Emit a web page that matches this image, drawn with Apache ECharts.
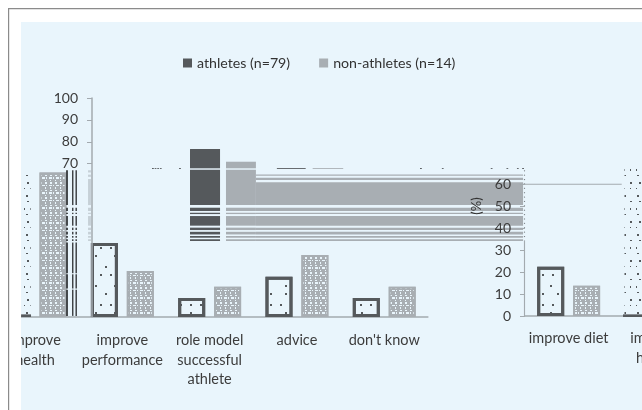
<!DOCTYPE html>
<html><head><meta charset="utf-8">
<style>html,body{margin:0;padding:0;background:#fff}#c{width:642px;height:410px}</style>
<script src="https://cdn.jsdelivr.net/npm/echarts@6/dist/echarts.min.js"></script>
</head><body><div id="c"></div>
<script>
const leftCategories = ['improve\nhealth','improve\nperformance','role model\nsuccessful\nathlete','advice',"don't know"];
const rightCategories = ['improve diet','improve\nhealth'];
const athletesLeft = [66, 33.8, 8.7, 18.4, 8.7];
const nonAthletesLeft = [66, 21, 13.8, 28.3, 13.8];
const athletesRight = [22.4, 67];
const nonAthletesRight = [13.8, 60];
const leftTicks = [70, 80, 90, 100];
const rightTicks = [0, 10, 20, 30, 40, 50, 60];

// displaced picture fragments: value ranges on the left scale
const sharedRows = [[49.9,48.4],[47.6,47],[46.1,41.7],[40.8,39.7],[38.9,37.7],[37,36.2],[35.5,34.7]];
const darkBlockRows = [[76.7,67.9],[67.2,51.1]].concat(sharedRows);
const lightBlockRows = [[70.9,67.9],[67.2,51.1]].concat(sharedRows);
const bandRows = [[65.1,64.5],[63.6,62.6],[61.5,51.1]].concat(sharedRows);
const tallRows = [[67,51.1]].concat(sharedRows, [[34,20],[19.5,13],[12.5,0.5]]);
const faintRows = [[67,66],[65,64],[63,51.1]].concat(sharedRows);
// horizontal extents, in category widths from the left edge of the left axis
const darkBlockX = [2.275,2.619];
const lightBlockX = [2.687,3.03];
const bandX = [3.03,6.09];
const tallX = [[0.855,0.877],[0.923,0.94],[0.963,0.98]];
const faintX = [1.107,1.14];
const strayDarkX = [3.27,3.6];
const strayLightX = [3.68,4.03];
const strayDots = [1.84,1.87,1.9,1.93,2.15,4.91,5.16,5.72,5.9,6.02,6.08];
const rightAxisDots = [67,65,63,61,59,57,55,53,51,49,47,45,43,41,39,37];

const DARK='#55595c', LIGHT='#a8aeb3', PANEL='#e9f5fc', AXIS='#a3aaaf', TEXT='#3c3c3c';
const FONT='Lato';
const lightDecal={symbol:'rect',symbolSize:1,dashArrayX:[[2,3],[3,1,1,2],[1,4]],dashArrayY:[1,1,2,1],color:'#e9f5fc',rotation:0};
const darkDecal={symbol:'rect',symbolSize:1,dashArrayX:[[2,13],[2,8],[2,17]],dashArrayY:[2,6,2,9],color:'#55595c',rotation:0};
const sparseDecal={symbol:'rect',symbolSize:1,dashArrayX:[[2,7],[1,5],[2,11]],dashArrayY:[2,4,1,6],color:'#55595c',rotation:0};
const lightDataItem=v=>({value:v,itemStyle:{color:LIGHT,borderColor:LIGHT,borderWidth:2,decal:lightDecal}});
const darkDataItem=v=>({value:v,itemStyle:{color:PANEL,borderColor:DARK,borderWidth:3,decal:darkDecal}});
const dotsOnly=v=>({value:v,itemStyle:{color:'rgba(0,0,0,0)',borderWidth:0,decal:sparseDecal}});

const frags=[];
const addRows=(x,rows,c)=>rows.forEach(r=>frags.push([x[0],x[1],r[0],r[1],c]));
addRows(bandX,bandRows,LIGHT);
addRows(lightBlockX,lightBlockRows,LIGHT);
addRows(darkBlockX,darkBlockRows,DARK);
tallX.forEach(x=>addRows(x,tallRows,'#3f4346'));
addRows(faintX,faintRows,'#c6d0d7');
frags.push([strayDarkX[0],strayDarkX[1],68,67.6,DARK]);
frags.push([strayLightX[0],strayLightX[1],68,67.6,LIGHT]);
strayDots.forEach(x=>frags.push([x,x+0.02,68,67.6,DARK]));
frags.push([6.05,7.22,60.9,60.4,AXIS]);               // stray rule at 60
frags.push([6.1,6.113,35,0,AXIS]);                    // right axis, solid part
rightAxisDots.forEach(v=>frags.push([6.1,6.113,v,v-0.5,'#7c8388']));
frags.push([0.34,0.454,1.2,0,DARK]);                  // foot of dotted left bar
frags.push([7.235,7.55,1.2,0,DARK]);                  // foot of dotted right bar

const axisText={color:TEXT,fontFamily:FONT,fontSize:14.5};
const option={
  animation:false,
  backgroundColor:PANEL,
  legend:{
    left:183,top:56,padding:0,itemWidth:9,itemHeight:9,itemGap:29,icon:'rect',
    textStyle:{color:'#333',fontFamily:FONT,fontSize:14.2},
    data:['athletes (n=79)','non-athletes (n=14)']
  },
  grid:[
    {left:-8.6,top:98,width:436.5,height:219,outerBoundsMode:'none'},
    {left:525,top:162,width:174.6,height:154,outerBoundsMode:'none'}
  ],
  xAxis:[
    {type:'category',gridIndex:0,data:leftCategories,
     axisLine:{lineStyle:{color:AXIS,width:1.5}},axisTick:{show:false},
     axisLabel:Object.assign({},axisText,{interval:0,margin:14,lineHeight:19.5,hideOverlap:false})},
    {type:'category',gridIndex:1,data:rightCategories,
     axisLine:{lineStyle:{color:AXIS,width:1.5}},axisTick:{show:false},
     axisLabel:Object.assign({},axisText,{interval:0,margin:13,lineHeight:19.5,hideOverlap:false})},
    {type:'value',gridIndex:0,min:0,max:5,show:false}
  ],
  yAxis:[
    {type:'value',gridIndex:0,min:0,max:100,interval:10,offset:-100.6,z:5,
     axisLine:{show:true,lineStyle:{color:AXIS,width:1.5}},
     axisTick:{show:true,length:5,customValues:leftTicks,lineStyle:{color:AXIS}},
     axisLabel:Object.assign({},axisText,{customValues:leftTicks,margin:14,fontSize:14}),
     splitLine:{show:false}},
    {type:'value',gridIndex:1,min:0,max:70,interval:10,z:5,
     axisLine:{show:false},
     axisTick:{show:true,length:5,customValues:rightTicks,lineStyle:{color:AXIS}},
     axisLabel:Object.assign({},axisText,{customValues:rightTicks,margin:14,fontSize:14}),
     splitLine:{show:false}}
  ],
  series:[
    {name:'athletes (n=79)',type:'bar',xAxisIndex:0,yAxisIndex:0,barWidth:27,barGap:'33%',
     itemStyle:{color:DARK},
     data:athletesLeft.map((v,i)=>i===0?dotsOnly(v):darkDataItem(v))},
    {name:'non-athletes (n=14)',type:'bar',xAxisIndex:0,yAxisIndex:0,barWidth:27,barGap:'33%',
     itemStyle:{color:LIGHT},
     data:nonAthletesLeft.map(lightDataItem)},
    {name:'athletes (n=79)',type:'bar',xAxisIndex:1,yAxisIndex:1,barWidth:27,barGap:'33%',
     itemStyle:{color:DARK},
     data:athletesRight.map((v,i)=>i===1?dotsOnly(v):darkDataItem(v))},
    {name:'non-athletes (n=14)',type:'bar',xAxisIndex:1,yAxisIndex:1,barWidth:27,barGap:'33%',
     itemStyle:{color:LIGHT},
     data:nonAthletesRight.map(lightDataItem)},
    {type:'custom',xAxisIndex:2,yAxisIndex:0,clip:false,z:3,silent:true,
     encode:{x:[0,1],y:[2,3]},
     data:frags,
     renderItem:(p,api)=>{
       const a=api.coord([api.value(0),api.value(2)]);
       const b=api.coord([api.value(1),api.value(3)]);
       return {type:'rect',shape:{x:a[0],y:a[1],width:b[0]-a[0],height:b[1]-a[1]},
               style:{fill:frags[p.dataIndex][4]}};
     }}
  ],
  graphic:[
    {type:'rect',z:100,shape:{x:0,y:0,width:21,height:410},style:{fill:'#fff'}},
    {type:'rect',z:100,shape:{x:0,y:0,width:642,height:22},style:{fill:'#fff'}},
    {type:'rect',z:101,shape:{x:8,y:8,width:1.2,height:402},style:{fill:'#8b8b8b'}},
    {type:'rect',z:101,shape:{x:8,y:8,width:634,height:1.2},style:{fill:'#8b8b8b'}},
    {type:'text',z:101,x:477,y:206,rotation:Math.PI/2,
     style:{text:'(%)',fill:'#333',font:'13px Lato',align:'center',verticalAlign:'middle'}}
  ]
};
const chart=echarts.init(document.getElementById('c'));
chart.setOption(option);
</script></body></html>
